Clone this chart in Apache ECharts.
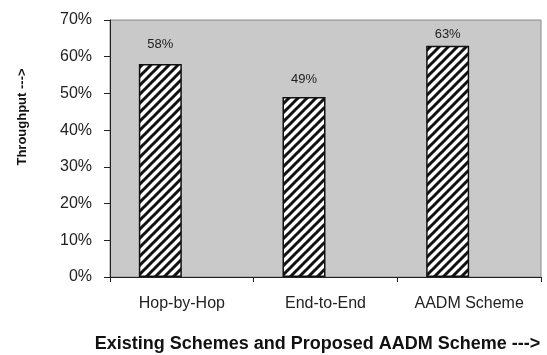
<!DOCTYPE html>
<html>
<head>
<meta charset="utf-8">
<style>
  html, body { margin: 0; padding: 0; background: #ffffff; }
  #chart { width: 547px; height: 355px; }
</style>
<script src="https://cdn.jsdelivr.net/npm/echarts@6/dist/echarts.min.js"></script>
</head>
<body>
<div id="chart"></div>
<script>
// Throughput of existing schemes versus the proposed AADM scheme
const categories = ['Hop-by-Hop', 'End-to-End', 'AADM Scheme'];
const throughput = [58, 49, 63];
const yTicks = [0, 10, 20, 30, 40, 50, 60, 70];
const xTitle = 'Existing Schemes and Proposed AADM Scheme --->';
const yTitle = 'Throughput --->';

// Gap between each bar top and its value label
const labelGap = [13, 11, 5];

// Diagonal hatch fill for the bars
function hatchPattern() {
  const s = 9;
  const c = document.createElement('canvas');
  c.width = s; c.height = s;
  const g = c.getContext('2d');
  g.fillStyle = '#ffffff';
  g.fillRect(0, 0, s, s);
  g.strokeStyle = '#111111';
  g.lineWidth = 3;
  g.beginPath();
  g.moveTo(-2, s + 2); g.lineTo(s + 2, -2);
  g.moveTo(-2, 2); g.lineTo(2, -2);
  g.moveTo(s - 2, s + 2); g.lineTo(s + 2, s - 2);
  g.stroke();
  return c;
}

const chart = echarts.init(document.getElementById('chart'), null, { renderer: 'canvas' });
const fontFamily = '"Liberation Sans", Arial, sans-serif';

const barData = throughput.map((v, i) => ({ value: v, label: { distance: labelGap[i] } }));

chart.setOption({
  animation: false,
  grid: {
    left: 110, right: 6, top: 20, bottom: 78,
    containLabel: false,
    outerBoundsMode: 'none',
    show: true,
    backgroundColor: '#c9c9c9',
    borderColor: '#8a8a8a',
    borderWidth: 1
  },
  // Vertical axis title, set a little above the middle of the axis
  graphic: [{
    type: 'text',
    x: 22,
    y: 117,
    rotation: Math.PI / 2,
    style: {
      text: yTitle,
      font: 'bold 13px "Liberation Sans", Arial, sans-serif',
      fill: '#111',
      align: 'center',
      verticalAlign: 'middle'
    }
  }],
  xAxis: {
    type: 'category',
    data: categories,
    name: xTitle,
    nameLocation: 'middle',
    nameGap: 58,
    nameTextStyle: { fontFamily, fontWeight: 'bold', fontSize: 18, color: '#111', padding: [0, 16, 0, 0] },
    axisLine: { lineStyle: { color: '#222', width: 1 } },
    axisTick: { show: true, alignWithLabel: false, length: 5, lineStyle: { color: '#222' } },
    axisLabel: { fontFamily, fontSize: 16, color: '#222', margin: 19, interval: 0 },
    splitLine: { show: false }
  },
  yAxis: {
    type: 'value',
    min: yTicks[0],
    max: yTicks[yTicks.length - 1],
    interval: 10,
    axisLine: { show: true, lineStyle: { color: '#222', width: 1 } },
    axisTick: { show: true, inside: false, length: 6, lineStyle: { color: '#222' } },
    axisLabel: { fontFamily, fontSize: 16, color: '#222', margin: 18, formatter: '{value}%' },
    splitLine: { show: false }
  },
  series: [
    {
      type: 'bar',
      data: barData,
      barWidth: 43,
      barGap: '0%',
      itemStyle: {
        color: { image: hatchPattern(), repeat: 'repeat' },
        borderColor: '#111',
        borderWidth: 1.5
      },
      label: {
        show: true,
        position: 'top',
        fontFamily,
        fontSize: 13,
        color: '#222',
        formatter: '{c}%'
      }
    },
    {
      type: 'bar',
      data: [null, null, null],
      barWidth: 43,
      barGap: '0%',
      silent: true
    }
  ]
});
</script>
</body>
</html>
